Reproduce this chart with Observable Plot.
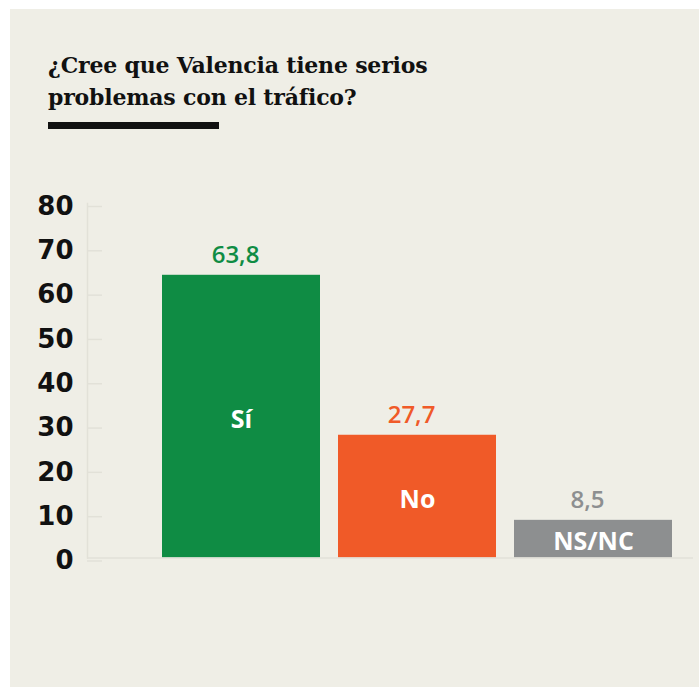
<!DOCTYPE html>
<html>
<head>
<meta charset="utf-8">
<script src="https://cdn.jsdelivr.net/npm/d3@7"></script>
<script src="https://cdn.jsdelivr.net/npm/@observablehq/plot@0.6"></script>
<style>
  html, body { margin: 0; padding: 0; background: #ffffff; }
  #fig {
    position: absolute; left: 10px; top: 9px; width: 689px; height: 678px;
    background: #efeee6; overflow: hidden;
  }
  #title {
    margin: 40px 0 0 38px;
    font-family: "DejaVu Serif", "Liberation Serif", serif;
    font-weight: 700; font-size: 22px; line-height: 32px; color: #111;
    letter-spacing: -0.2px; white-space: nowrap;
  }
  #rule { margin: 9px 0 0 38px; width: 171px; height: 7px; background: #111; }
  #chart svg { display: block; }
</style>
</head>
<body>
<div id="fig">
  <div id="title">¿Cree que Valencia tiene serios<br>problemas con el tráfico?</div>
  <div id="rule"></div>
  <div id="chart"></div>
</div>
<script>
const categories = ["Sí", "No", "NS/NC"];
const values = [63.8, 27.7, 8.5];
const valueLabels = ["63,8", "27,7", "8,5"];
const colors = ["#0f8c44", "#f05a28", "#8d8f90"];
const yTicks = [0, 10, 20, 30, 40, 50, 60, 70, 80];

const data = categories.map((c, i) => ({cat: c, value: values[i], label: valueLabels[i], color: colors[i]}));

const chart = Plot.plot({
  width: 689,
  height: 558,
  marginTop: 74,
  marginBottom: 129.5,
  marginLeft: 77,
  marginRight: 6,
  style: {background: "transparent", overflow: "visible"},
  x: {domain: categories, paddingInner: 0.105, paddingOuter: 0.269, align: 0.779, axis: null},
  y: {domain: [0, 80], axis: null},
  marks: [
    Plot.frame({anchor: "left", stroke: "#e2e1d8", strokeWidth: 1.5}),
    Plot.axisY(yTicks, {
      anchor: "left", tickSize: -15, tickPadding: 29, stroke: "#e2e1d8", strokeWidth: 1.5,
      fill: "#111", fontSize: 26, fontWeight: 700, fontFamily: "DejaVu Sans",
      dy: 3, tickFormat: d => String(d), label: null
    }),
    Plot.barY(data, {x: "cat", y: "value", fill: "color"}),
    Plot.ruleY([0], {stroke: "#e2e1d8", strokeWidth: 1.5}),
    Plot.text(data, {
      x: "cat", y: "value", text: "label", fill: "color",
      lineAnchor: "bottom", dy: -12, dx: -6,
      fontSize: 24, fontWeight: 600, fontFamily: "Open Sans"
    }),
    Plot.text(data, {
      x: "cat", y: d => d.value / 2, text: "cat", fill: "white",
      dy: 3, fontSize: 25, fontWeight: 700, fontFamily: "Open Sans"
    })
  ]
});
document.getElementById("chart").appendChild(chart);
</script>
</body>
</html>
